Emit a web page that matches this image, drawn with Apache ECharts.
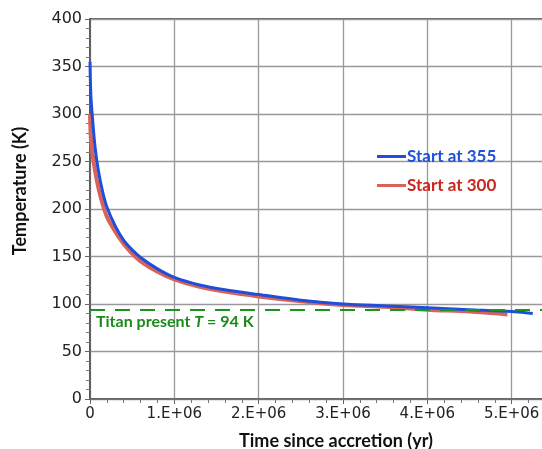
<!DOCTYPE html>
<html>
<head>
<meta charset="utf-8">
<script src="https://cdn.jsdelivr.net/npm/echarts@6/dist/echarts.min.js"></script>
<style>
  html, body { margin: 0; padding: 0; background: #fff; }
</style>
</head>
<body>
<div id="chart" style="width:542px;height:449px;"></div>
<script>
// time since accretion (yr) and temperature (K)
var time355 = [0, 1e4, 3e4, 6e4, 1e5, 1.5e5, 2e5, 3e5, 4e5, 5e5, 6e5, 8e5, 1e6, 1.3e6, 1.6e6, 2e6, 2.5e6, 3e6, 3.5e6, 4e6, 4.5e6, 5e6, 5.25e6];
var temp355 = [355, 320, 295, 265, 240, 218, 202, 182, 167, 157, 149, 137, 128, 120, 115, 110, 104, 100, 98, 96, 94, 92, 90];
var time300 = [0, 1e4, 3e4, 6e4, 1e5, 1.5e5, 2e5, 3e5, 4e5, 5e5, 6e5, 8e5, 1e6, 1.3e6, 1.6e6, 2e6, 2.5e6, 3e6, 3.5e6, 4e6, 4.5e6, 4.95e6];
var temp300 = [300, 275, 258, 240, 222, 205, 192, 176, 163, 153, 145, 134, 126, 118, 113, 108, 103, 99, 97, 94, 92, 89];
var titanT = 94;
var seriesNames = ['Start at 355', 'Start at 300'];

function pairs (xs, ys) {
  return xs.map(function (x, i) { return [x, ys[i]]; });
}

var chart = echarts.init(document.getElementById('chart'));
chart.setOption({
  animation: false,
  grid: {
    left: 90, top: 19, right: -54, bottom: 50,
    outerBoundsMode: 'none',
    containLabel: false,
    show: true, borderColor: '#333', borderWidth: 1.5
  },
  legend: {
    orient: 'vertical',
    left: 372, top: 143,
    itemWidth: 29, itemHeight: 3,
    itemGap: 12,
    icon: 'rect',
    data: [
      { name: seriesNames[0], textStyle: { color: '#1f52d6' } },
      { name: seriesNames[1], textStyle: { color: '#c8281e' } }
    ],
    textStyle: { fontFamily: 'Lato', fontWeight: 'bold', fontSize: 17, padding: [0, 0, 0, -4] }
  },
  xAxis: {
    type: 'value',
    min: 0, max: 6e6, interval: 1e6,
    name: 'Time since accretion (yr)',
    nameLocation: 'middle', nameGap: 33,
    nameTextStyle: { fontFamily: 'Lato', fontWeight: 'bold', fontSize: 18, color: '#111', padding: [0, 14, 0, 0] },
    axisLine: { lineStyle: { color: '#666', width: 1.5 } },
    axisTick: { show: true, length: 5, lineStyle: { color: '#666' } },
    minorTick: { show: true, splitNumber: 5, length: 4, lineStyle: { color: '#777' } },
    splitLine: { show: true, lineStyle: { color: '#999', width: 1.3 } },
    axisLabel: {
      margin: 8,
      fontFamily: 'DejaVu Sans', fontSize: 15, color: '#222',
      formatter: function (v) { return v === 0 ? '0' : (v / 1e6) + '.E+06'; }
    }
  },
  yAxis: {
    type: 'value',
    min: 0, max: 400, interval: 50,
    name: 'Temperature (K)',
    nameLocation: 'middle', nameGap: 61, nameRotate: 90,
    nameTextStyle: { fontFamily: 'Lato', fontWeight: 'bold', fontSize: 18, color: '#111', padding: [0, 0, 0, 36] },
    axisLine: { show: true, lineStyle: { color: '#555', width: 1.5 } },
    axisTick: { show: true, length: 5, lineStyle: { color: '#666' } },
    minorTick: { show: true, splitNumber: 5, length: 4, lineStyle: { color: '#777' } },
    splitLine: { show: true, lineStyle: { color: '#999', width: 1.3 } },
    axisLabel: { margin: 8, fontFamily: 'DejaVu Sans', fontSize: 16, color: '#222' }
  },
  series: [
    {
      name: seriesNames[1],
      type: 'line',
      data: pairs(time300, temp300),
      smooth: 0.3,
      showSymbol: false,
      itemStyle: { color: '#d9625a' },
      lineStyle: { width: 4, color: '#d9625a' },
      z: 2
    },
    {
      name: seriesNames[0],
      type: 'line',
      data: pairs(time355, temp355),
      smooth: 0.3,
      showSymbol: false,
      itemStyle: { color: '#1f4fd8' },
      lineStyle: { width: 3, color: '#1f4fd8' },
      z: 3,
      markLine: {
        silent: true,
        symbol: 'none',
        data: [{ yAxis: titanT }],
        lineStyle: { color: '#1a941a', width: 2, type: [15, 10] },
        label: {
          position: 'insideStartBottom',
          distance: [6, 4],
          formatter: '{a|Titan present }{b|T}{a| = 94 K}',
          rich: {
            a: { fontFamily: 'Lato', fontWeight: 'bold', fontSize: 16, color: '#1a8a1a' },
            b: { fontFamily: 'Lato', fontWeight: 'bold', fontStyle: 'italic', fontSize: 16, color: '#1a8a1a' }
          }
        }
      }
    }
  ]
});
</script>
</body>
</html>
